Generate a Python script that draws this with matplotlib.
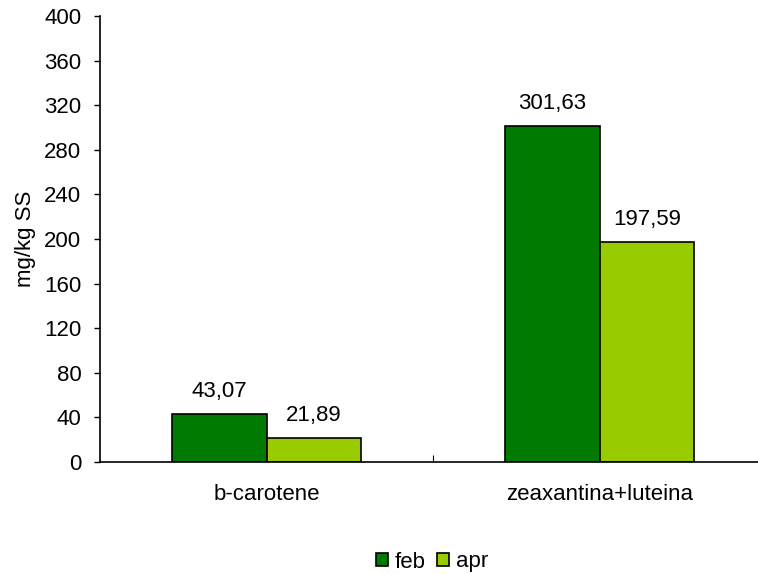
import matplotlib.pyplot as plt
import numpy as np

plt.rcParams['font.family'] = ['Liberation Sans', 'DejaVu Sans']

categories = ['b-carotene', 'zeaxantina+luteina']
feb = [43.07, 301.63]
apr = [21.89, 197.59]
series_names = ['feb', 'apr']
colors = ['#007A00', '#99CC00']

fig = plt.figure(figsize=(7.58, 5.74), dpi=100)
ax = fig.add_axes([100 / 758, 112 / 574, 666 / 758, 446 / 574])

x = np.arange(len(categories))
w = 0.285
bars_feb = ax.bar(x - w / 2, feb, w, color=colors[0], edgecolor='black', linewidth=1.2, label=series_names[0])
bars_apr = ax.bar(x + w / 2, apr, w, color=colors[1], edgecolor='black', linewidth=1.2, label=series_names[1])

# value labels above each bar, decimal comma
for bars, vals in [(bars_feb, feb), (bars_apr, apr)]:
    for b, v in zip(bars, vals):
        ax.annotate(f'{v:.2f}'.replace('.', ','), (b.get_x() + b.get_width() / 2, v),
                    xytext=(0, 12), textcoords='offset points', ha='center', va='baseline',
                    fontsize=16)

ax.set_xlim(-0.5, 1.5)
ax.set_ylim(0, 400)
ax.set_yticks(np.arange(0, 401, 40))
ax.tick_params(axis='y', labelsize=16, length=4.5, width=1, direction='out', pad=9)
ax.set_xticks([0.5])
ax.set_xticklabels([''])
ax.set_xticks(x, minor=True)
ax.set_xticklabels(categories, minor=True)
ax.tick_params(axis='x', which='major', length=5, width=0.8, direction='in')
ax.tick_params(axis='x', which='minor', length=0, labelsize=16, pad=16)
ax.spines['top'].set_visible(False)
ax.spines['right'].set_visible(False)
ax.spines['left'].set_linewidth(1.2)
ax.spines['bottom'].set_linewidth(1.2)
ax.set_ylabel('mg/kg SS', fontsize=16, labelpad=6)

fig.legend(loc='center', bbox_to_anchor=(432 / 758, 1 - 562 / 574), ncol=2, frameon=False,
           fontsize=16, handlelength=0.55, handleheight=0.55, handletextpad=0.3,
           columnspacing=0.5)

fig.savefig('out.png', dpi=100)
